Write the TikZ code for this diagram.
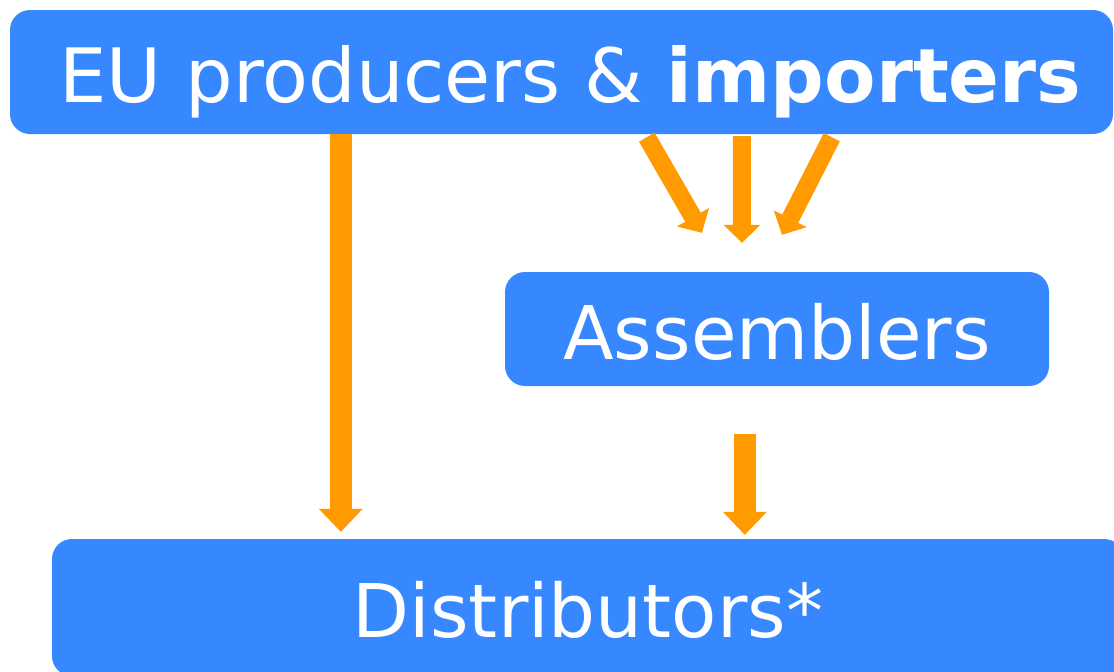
\documentclass[tikz,border=0pt]{standalone}
\usepackage{fontspec}
\setmainfont{DejaVu Sans}
\usetikzlibrary{arrows.meta,positioning,calc}
\definecolor{boxblue}{HTML}{3788FF}
\definecolor{floworange}{HTML}{FF9A00}
\tikzset{
  stage/.style={rectangle,rounded corners=20pt,fill=boxblue,text=white,inner sep=0pt,
    text height=70pt,text depth=10pt,font=\fontsize{74}{80}\selectfont},
  feed/.style={draw=floworange,line width=18pt,-{Triangle[length=18pt,width=37pt,line width=0pt]}},
  supply/.style={draw=floworange,line width=22pt,-{Triangle[length=23pt,width=44pt,line width=0pt]}}
}

\begin{document}
\begin{tikzpicture}[x=1pt,y=-1pt]
  \clip (0,0) rectangle (1114,672);
  \node[stage, minimum width=1103pt, minimum height=124pt, font=\fontsize{75}{80}\selectfont] (producers) at (561.5,72) {\hspace*{18pt}EU producers \& \textbf{importers}};
  \node[stage, minimum width=544pt, minimum height=114pt] (assemblers) at (777,329) {Assemblers};
  \node[stage, minimum width=1072pt, minimum height=137pt] (distributors) at (588,607.5) {Distributors*};
  % into the assemblers
  \draw[feed] ($(producers.south west)+(637,3)$) -- ($(assemblers.north)+(-75,-39)$);
  \draw[feed] ($(producers.south west)+(732,2)$) -- ($(assemblers.north)+(-35,-29)$);
  \draw[feed] ($(producers.south west)+(822,3)$) -- ($(assemblers.north)+(5,-37)$);
  % down to the distributors
  \draw[supply] ($(producers.south west)+(331,0)$) -- ($(distributors.north west)+(289,-7)$);
  \draw[supply] ($(assemblers.south)+(-32,48)$) -- ($(distributors.north west)+(693,-4)$);
\end{tikzpicture}
\end{document}
